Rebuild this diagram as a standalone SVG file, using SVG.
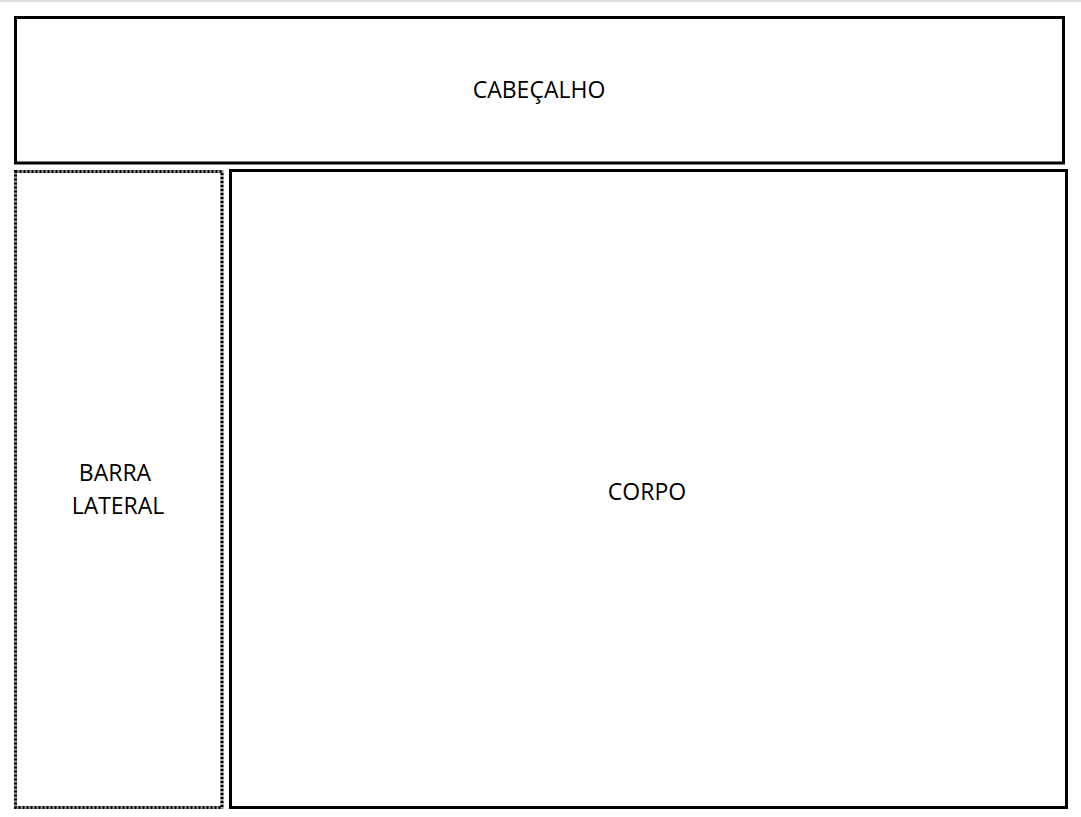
<svg xmlns="http://www.w3.org/2000/svg" width="1081" height="817" viewBox="0 0 1081 817">
<style>
.box{fill:#fff;stroke:#000;stroke-width:3}
.lbl{font-family:"Open Sans","Liberation Sans",sans-serif;font-size:23px;fill:#000;text-anchor:middle}
</style>
<rect x="0" y="0" width="1081" height="817" fill="#fff"/>
<rect x="0" y="0" width="1081" height="2" fill="#ddd"/>
<g id="cabecalho">
<rect class="box" x="15.5" y="17.5" width="1048" height="145.5"/>
<text class="lbl" x="539" y="98">CABEÇALHO</text>
</g>
<g id="barra-lateral">
<rect x="15.5" y="171.5" width="206.5" height="636" fill="#fff" stroke="#999" stroke-width="3"/>
<rect x="15.5" y="171.5" width="206.5" height="636" fill="none" stroke="#000" stroke-width="3" stroke-dasharray="2 2"/>
<text class="lbl" x="115" y="481">BARRA</text>
<text class="lbl" x="118" y="514">LATERAL</text>
</g>
<g id="corpo">
<rect class="box" x="230.5" y="170.5" width="836" height="637"/>
<text class="lbl" x="647" y="500">CORPO</text>
</g>
<g id="connectors"></g>
</svg>
